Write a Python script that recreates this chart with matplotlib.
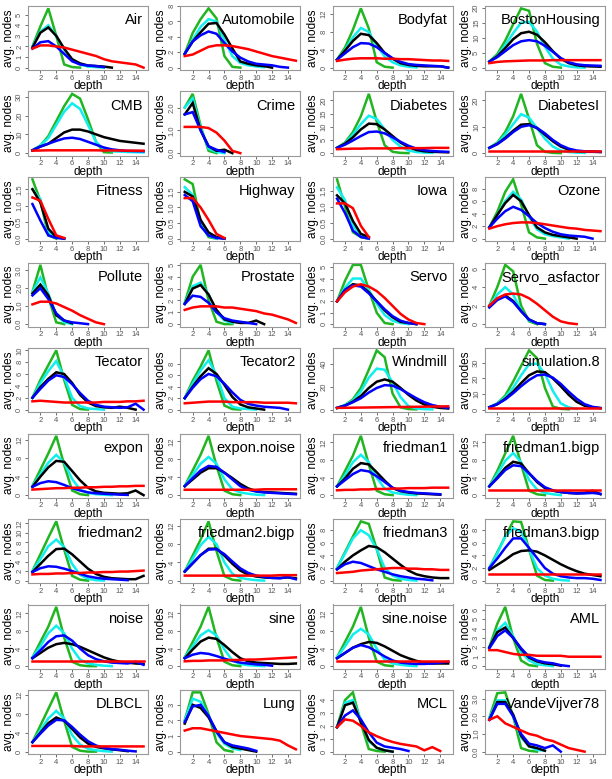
import matplotlib
matplotlib.use("Agg")
import matplotlib.pyplot as plt

# panel names, row by row
names = ["Air", "Automobile", "Bodyfat", "BostonHousing",
         "CMB", "Crime", "Diabetes", "DiabetesI",
         "Fitness", "Highway", "Iowa", "Ozone",
         "Pollute", "Prostate", "Servo", "Servo_asfactor",
         "Tecator", "Tecator2", "Windmill", "simulation.8",
         "expon", "expon.noise", "friedman1", "friedman1.bigp",
         "friedman2", "friedman2.bigp", "friedman3", "friedman3.bigp",
         "noise", "sine", "sine.noise", "AML",
         "DLBCL", "Lung", "MCL", "VandeVijver78"]

# avg. nodes per depth (depth = 1, 2, ...), one list per panel
green = [
    [2.0, 3.9, 5.6, 3.0, 0.3, 0.05, 0.0],
    [1.8, 4.5, 6.3, 7.7, 6.4, 1.5, 0.1, 0.0],
    [1.8, 4.5, 8.5, 13.3, 8.8, 1.2, 0.2, 0.0],
    [2.0, 4.5, 9.0, 14.5, 19.8, 19.0, 8.0, 1.5, 0.3, 0.0],
    [1.5, 4, 9, 17, 25, 31.5, 29, 18, 6, 0.5, 0.3],
    [2.0, 2.6, 1.2, 0.1, 0.0],
    [2, 4, 8, 14, 22.5, 12, 3, 0.5, 0.1, 0.0],
    [2, 4, 8, 14, 22.5, 13, 3, 0.5, 0.1, 0.0],
    [1.8, 1.15, 0.1, 0.0],
    [1.9, 1.75, 0.5, 0.05, 0.0],
    [1.85, 1.0, 0.2, 0.05, 0.0],
    [1.8, 4.3, 7.5, 9.5, 5.5, 1.0, 0.2, 0.0],
    [1.8, 3.3, 1.5, 0.1, 0.0],
    [1.8, 4.0, 5.0, 2.0, 0.2, 0.0, 0.0],
    [2.0, 3.8, 5.2, 5.2, 3.0, 1.0, 0.1, 0.0],
    [2.0, 4.0, 6.4, 5.7, 2.0, 0.3, 0.0],
    [2.0, 5.0, 7.5, 10.0, 5.0, 0.8, 0.1, 0.0],
    [2.0, 5.0, 7.5, 10.3, 5.0, 0.7, 0.1, 0.0],
    [1.5, 4, 9, 19, 35, 52, 46, 14, 2, 0.5, 0.2],
    [1.5, 4, 9, 18, 28, 38, 33, 14, 2, 0.5, 0.2],
    [2.0, 5.5, 9.0, 12.8, 6.5, 1.0, 0.2, 0.0],
    [2.0, 5.5, 9.0, 13.2, 6.5, 1.0, 0.2, 0.0],
    [2.0, 5.5, 9.0, 13.5, 7.0, 1.0, 0.2, 0.0],
    [2.0, 5.5, 9.5, 13.5, 7.0, 1.0, 0.2, 0.0],
    [2.0, 5.5, 9.0, 12.4, 6.5, 1.0, 0.2, 0.0],
    [2.0, 5.5, 9.0, 13.0, 6.5, 1.0, 0.2, 0.0],
    [2.0, 4.5, 7.0, 9.4, 9.0, 5.0, 0.5, 0.1, 0.0],
    [2.0, 4.5, 7.0, 9.4, 9.3, 5.0, 0.8, 0.1, 0.0],
    [2.0, 5.5, 9.0, 13.5, 6.5, 1.0, 0.2, 0.0, 0.0],
    [2.0, 5.5, 9.0, 13.5, 6.5, 1.0, 0.2, 0.0],
    [2.0, 5.5, 9.0, 13.5, 6.5, 1.0, 0.2, 0.0],
    [2.0, 4.5, 6.3, 3.0, 0.6, 0.1, 0.0],
    [2.0, 5.5, 9.0, 12.5, 6.5, 1.0, 0.2, 0.0, 0.0],
    [2.0, 3.8, 3.8, 2.4, 0.6, 0.1, 0.0],
    [1.9, 4.0, 4.6, 2.2, 0.2, 0.05, 0.0],
    [1.9, 3.3, 3.35, 2.0, 0.2, 0.05, 0.0],
]

cyan = [
    [2.0, 3.4, 4.0, 3.0, 1.7, 0.7, 0.3, 0.1, 0.05, 0.0],
    [1.8, 3.6, 5.3, 6.3, 6.0, 3.6, 1.5, 0.6, 0.3, 0.15, 0.05],
    [1.8, 4.0, 6.8, 8.9, 8.0, 5.0, 2.5, 1.2, 0.5, 0.2, 0.05],
    [2.0, 4.0, 7.5, 11.5, 15.0, 15.3, 12.0, 7.0, 3.0, 1.0, 0.4, 0.1, 0.0],
    [1.5, 4, 8, 15, 22, 26.5, 23.5, 15, 6, 2, 1, 0.8, 0.6, 0.5, 0.4],
    [2.0, 2.4, 1.1, 0.2, 0.05, 0.0],
    [2, 3.8, 7, 11, 14.2, 13, 9, 5, 2.5, 1, 0.4, 0.2, 0.1],
    [2, 3.8, 7, 11, 14.8, 13.5, 9.5, 5.5, 2.5, 1, 0.4, 0.2, 0.1],
    [1.5, 1.2, 0.2, 0.05, 0.0],
    [1.65, 1.4, 0.45, 0.1, 0.0],
    [1.6, 1.2, 0.4, 0.1, 0.0],
    [1.8, 3.8, 6.0, 7.5, 6.3, 3.5, 1.5, 0.7, 0.4, 0.2, 0.0],
    [1.8, 2.6, 1.7, 0.5, 0.1, 0.0],
    [1.8, 3.2, 3.5, 2.5, 1.0, 0.3, 0.1],
    [2.0, 3.2, 4.0, 4.0, 3.0, 1.8, 0.8, 0.3, 0.1, 0.0],
    [2.0, 3.2, 4.0, 3.2, 1.5, 0.4, 0.1, 0.0],
    [2.0, 4.5, 6.5, 8.2, 5.5, 2.0, 0.6, 0.2, 0.1, 0.0],
    [2.0, 4.5, 6.8, 8.6, 6.0, 2.0, 0.5, 0.2, 0.1, 0.0],
    [1.5, 4, 8, 16, 28, 36, 35, 24, 11, 3, 1, 0.4, 0.2],
    [1.5, 4, 8, 14, 22, 29, 29.5, 23, 12, 4, 1.5, 0.5],
    [2.0, 4.5, 7.0, 8.7, 7.0, 3.5, 1.2, 0.5, 0.2, 0.1, 0.0],
    [2.0, 4.5, 7.0, 8.5, 7.0, 3.5, 1.3, 0.6, 0.3, 0.1, 0.0],
    [2.0, 4.5, 7.5, 9.2, 7.5, 4.0, 1.5, 0.6, 0.3, 0.1, 0.0],
    [2.0, 4.8, 7.8, 9.6, 7.5, 3.5, 1.3, 0.5, 0.2, 0.0],
    [2.0, 4.5, 7.2, 8.6, 7.0, 3.5, 1.2, 0.4, 0.1, 0.0],
    [2.0, 4.8, 7.8, 9.6, 8.0, 4.0, 1.5, 0.6, 0.3, 0.1, 0.0],
    [2.0, 4.3, 6.7, 8.0, 7.2, 5.0, 2.0, 0.8, 0.3, 0.1, 0.0],
    [2.0, 4.3, 7.0, 8.3, 7.8, 5.0, 2.0, 0.8, 0.3, 0.1, 0.0],
    [2.0, 4.5, 7.5, 9.2, 7.5, 4.0, 1.5, 0.6, 0.3, 0.1, 0.0],
    [2.0, 4.5, 7.0, 8.2, 7.0, 3.8, 1.3, 0.5, 0.2, 0.1, 0.0],
    [2.0, 4.5, 7.2, 8.5, 7.2, 4.0, 1.5, 0.6, 0.3, 0.1, 0.0],
    [2.0, 3.8, 4.6, 3.2, 1.5, 0.6, 0.2, 0.1, 0.0],
    [2.0, 4.5, 7.0, 8.6, 7.0, 3.5, 1.5, 0.6, 0.3, 0.1, 0.0],
    [2.0, 3.4, 3.2, 2.3, 1.2, 0.5, 0.2, 0.1],
    [1.9, 3.8, 4.0, 2.5, 0.8, 0.3, 0.1, 0.0],
    [1.9, 2.9, 2.9, 2.0, 0.8, 0.3, 0.1, 0.05],
]

black = [
    [1.9, 3.3, 3.8, 3.0, 1.8, 0.8, 0.4, 0.2, 0.15, 0.1, 0.0],
    [1.8, 3.4, 4.6, 5.7, 5.8, 4.3, 2.5, 0.8, 0.5, 0.3, 0.2, 0.0],
    [1.8, 3.8, 6.0, 7.6, 7.3, 5.5, 3.3, 2.0, 1.0, 0.6, 0.4, 0.3, 0.3, 0.3, 0.0],
    [2.0, 3.8, 6.5, 9.5, 11.5, 12.0, 11.0, 8.5, 5.5, 3.0, 1.5, 0.8, 0.5, 0.4, 0.3],
    [1.5, 3.5, 5, 8, 11, 12.5, 12.5, 11.5, 10, 8.5, 7.5, 6.5, 6, 5.5, 5],
    [1.7, 2.2, 1.0, 0.3, 0.1, 0.15, 0.0],
    [2, 3.6, 6, 9, 11.2, 11, 9, 6.5, 4, 2.3, 1.2, 0.7, 0.5, 0.4, 0.3],
    [2, 3.5, 5.8, 8.5, 10.8, 11, 9.5, 7, 4.5, 2.5, 1.3, 0.7, 0.5, 0.5, 0.4],
    [1.5, 1.1, 0.3, 0.05, 0.0],
    [1.5, 1.35, 0.6, 0.2, 0.05, 0.0],
    [1.35, 1.1, 0.55, 0.15, 0.05],
    [1.8, 3.8, 5.7, 7.0, 6.0, 3.8, 1.8, 1.0, 0.6, 0.4, 0.2, 0.0],
    [1.7, 2.2, 1.6, 0.5, 0.2, 0.05],
    [1.7, 3.0, 3.3, 2.5, 1.2, 0.4, 0.2, 0.1, 0.1, 0.3, 0.0],
    [2.0, 3.0, 3.5, 3.4, 2.8, 2.0, 1.2, 0.6, 0.2, 0.1, 0.0],
    [1.9, 2.7, 3.1, 2.5, 1.4, 0.5, 0.1, 0.0],
    [2.0, 3.8, 5.2, 6.3, 6.0, 4.5, 2.5, 1.2, 0.6, 0.4, 0.3, 0.5, 0.3, 0.0],
    [2.0, 4.0, 5.8, 7.2, 6.2, 4.3, 2.2, 0.9, 0.4, 0.2, 0.0],
    [1.5, 3.5, 7, 12, 19, 24.5, 26.5, 24.5, 19, 13, 8, 4.5, 2.5, 1.5, 1],
    [1.5, 3.5, 7, 11.5, 17, 22, 24.5, 24, 20, 15, 9.5, 5, 2.5, 1.5, 1],
    [1.8, 4.0, 6.0, 7.4, 7.2, 5.2, 3.2, 1.6, 0.8, 0.5, 0.4, 0.3, 0.4, 1.0, 0.0],
    [2.0, 3.5, 5.0, 6.0, 6.0, 5.0, 3.8, 2.5, 1.5, 0.9, 0.7, 0.6, 0.5, 0.4, 0.3],
    [2.0, 3.8, 6.0, 7.3, 7.0, 5.2, 3.3, 1.6, 0.9, 0.6, 0.4, 0.3, 0.2, 0.1],
    [2.0, 4.0, 6.2, 7.6, 7.2, 5.0, 3.0, 1.6, 1.0, 0.7, 0.5, 0.4, 0.5, 1.0, 0.2],
    [1.8, 3.5, 5.2, 6.6, 6.7, 5.5, 4.0, 2.5, 1.4, 0.8, 0.5, 0.4, 0.3, 0.3, 1.0],
    [2.0, 3.8, 5.6, 7.0, 7.0, 5.5, 3.7, 2.2, 1.3, 0.9, 0.7, 0.6, 0.6, 0.7, 0.5],
    [1.8, 3.0, 4.0, 4.8, 5.5, 5.3, 4.5, 3.5, 2.5, 1.6, 1.0, 0.7, 0.5, 0.4, 0.4],
    [1.7, 2.5, 3.3, 4.2, 4.7, 4.8, 4.6, 4.0, 3.3, 2.6, 2.0, 1.5, 1.1, 0.9, 0.7],
    [1.8, 3.0, 4.2, 5.0, 5.3, 5.0, 4.4, 3.6, 2.8, 2.0, 1.4, 1.0, 0.8, 0.6, 0.5],
    [1.8, 3.8, 5.6, 6.5, 6.2, 4.8, 3.2, 1.8, 1.1, 0.8, 0.7, 0.6, 0.5, 0.5, 0.6],
    [1.8, 3.0, 4.2, 5.0, 5.5, 5.3, 4.5, 3.5, 2.5, 1.8, 1.2, 0.8, 0.6, 0.6, 0.6],
    [2.0, 3.6, 4.1, 3.0, 1.8, 0.9, 0.5, 0.3, 0.2, 0.05],
    [2.0, 4.0, 6.0, 7.2, 6.5, 4.8, 3.0, 1.7, 1.0, 0.7, 0.5, 0.3, 0.1],
    [1.8, 3.0, 2.8, 2.2, 1.3, 0.6, 0.3, 0.2, 0.1, 0.0],
    [1.9, 3.6, 3.8, 2.3, 0.9, 0.3, 0.1, 0.0],
    [1.8, 2.8, 2.8, 2.1, 0.9, 0.3, 0.2, 0.05],
]

blue = [
    [1.8, 2.4, 2.5, 2.0, 1.3, 0.6, 0.3, 0.2, 0.15, 0.05],
    [1.8, 3.4, 4.2, 4.7, 4.4, 3.2, 2.1, 1.3, 0.8, 0.5, 0.4, 0.3, 0.1, 0.0],
    [1.8, 3.2, 4.6, 5.5, 5.4, 4.6, 3.3, 2.1, 1.3, 0.8, 0.6, 0.5, 0.4, 0.3, 0.0],
    [2.0, 3.5, 5.5, 7.5, 8.8, 9.2, 8.8, 7.3, 5.3, 3.2, 1.8, 1.1, 0.8, 0.7, 0.6],
    [1.5, 3.5, 5, 6.5, 7.8, 8.2, 7.5, 6, 4.5, 3, 2, 1.5, 1.2, 1.1, 1.0],
    [1.7, 1.8, 1.0, 0.3, 0.15, 0.05],
    [2, 3.2, 4.8, 6.5, 8.0, 8.2, 7.5, 6, 4.3, 2.8, 1.7, 1.1, 0.8, 0.6, 0.5],
    [2, 3.4, 5.5, 8, 10, 10.6, 9.6, 7.5, 5, 3, 1.7, 1, 0.7, 0.6, 0.5],
    [1.05, 0.55, 0.1, 0.02, 0.0],
    [1.4, 1.2, 0.4, 0.1, 0.02, 0.0],
    [1.25, 0.8, 0.25, 0.05, 0.0],
    [1.8, 3.2, 4.4, 5.1, 4.6, 3.6, 2.5, 1.7, 1.1, 0.7, 0.5, 0.4, 0.3, 0.0],
    [1.6, 2.0, 1.4, 0.6, 0.2, 0.1, 0.05, 0.0],
    [1.7, 2.4, 2.3, 1.8, 1.0, 0.5, 0.3, 0.2, 0.1, 0.0],
    [2.0, 3.0, 3.4, 3.3, 2.7, 2.0, 1.3, 0.7, 0.3, 0.1, 0.0],
    [1.8, 2.6, 3.0, 2.4, 1.4, 0.5, 0.1, 0.0],
    [2.0, 3.5, 4.9, 5.8, 5.5, 4.3, 2.8, 1.5, 0.8, 0.5, 0.4, 0.3, 0.4, 1.0, 0.0],
    [2.0, 3.8, 5.3, 6.2, 5.8, 4.5, 3.0, 1.7, 1.0, 0.7, 0.5, 0.4, 0.3, 0.0],
    [1.5, 3.5, 6.5, 10, 15, 19, 21.5, 21, 18, 14, 10, 6.5, 4, 2.5, 1.5],
    [1.5, 3.5, 6.5, 10.5, 15, 19, 22, 22.5, 20.5, 16.5, 11.5, 7, 3.5, 1.8, 1],
    [1.8, 2.6, 3.0, 2.8, 2.2, 1.5, 1.0, 0.6, 0.4, 0.3, 0.2, 0.1, 0.05],
    [2.0, 3.8, 5.5, 6.5, 6.3, 5.0, 3.5, 2.0, 1.2, 0.8, 0.6, 0.5, 0.4, 0.3, 0.2],
    [2.0, 3.4, 4.8, 5.7, 5.4, 4.3, 3.0, 1.7, 1.0, 0.7, 0.5, 0.4, 0.3, 0.2],
    [2.0, 3.8, 5.7, 6.8, 6.6, 5.0, 3.2, 1.8, 1.1, 0.7, 0.5, 0.4, 0.4, 0.5, 0.3],
    [1.8, 2.6, 3.0, 2.9, 2.5, 2.0, 1.4, 0.9, 0.6, 0.4, 0.3, 0.2, 0.1],
    [2.0, 3.8, 5.6, 6.8, 6.9, 5.8, 4.2, 2.7, 1.7, 1.1, 0.8, 0.6, 0.5, 0.8, 0.3],
    [1.8, 2.6, 3.0, 2.8, 2.3, 1.8, 1.4, 1.0, 0.7, 0.5, 0.3, 0.2, 0.05],
    [2.0, 3.5, 5.2, 6.7, 6.7, 5.2, 3.6, 2.0, 1.1, 0.7, 0.5, 0.4, 0.4, 0.3, 0.1],
    [1.8, 3.6, 5.5, 6.8, 7.0, 5.8, 4.0, 2.5, 1.6, 1.1, 0.8, 0.7, 0.6, 1.0, 0.3],
    [1.8, 2.6, 3.0, 2.8, 2.3, 1.7, 1.2, 0.8, 0.6, 0.4, 0.3, 0.1],
    [1.8, 3.0, 4.2, 4.8, 4.3, 3.3, 2.2, 1.3, 0.8, 0.6, 0.5, 0.5, 0.6, 0.8, 1.0],
    [1.9, 3.2, 3.8, 3.0, 1.9, 1.0, 0.6, 0.4, 0.3, 0.1, 0.0],
    [2.0, 3.8, 5.5, 6.7, 6.6, 5.2, 3.6, 2.2, 1.3, 0.8, 0.5, 0.4, 0.2, 0.05],
    [1.9, 2.9, 3.0, 2.3, 1.3, 0.6, 0.4, 0.3, 0.2, 0.05],
    [1.9, 2.8, 3.2, 2.5, 1.5, 0.7, 0.4, 0.3, 0.2, 0.05],
    [1.8, 2.7, 2.7, 2.0, 1.0, 0.45, 0.35, 0.2, 0.35, 0.0],
]

red = [
    [1.8, 2.1, 2.1, 2.0, 1.9, 1.7, 1.5, 1.3, 1.1, 0.8, 0.6, 0.5, 0.4, 0.3, 0.0],
    [1.5, 1.7, 2.2, 2.7, 2.9, 2.9, 2.8, 2.6, 2.4, 2.1, 1.8, 1.5, 1.3, 1.1, 0.9],
    [1.5, 1.8, 2.0, 2.1, 2.1, 2.1, 2.0, 2.0, 1.9, 1.9, 1.8, 1.7, 1.6, 1.6, 1.5],
    [1.5, 1.9, 2.1, 2.2, 2.3, 2.4, 2.4, 2.4, 2.5, 2.5, 2.5, 2.5, 2.5, 2.5, 2.5],
    [1.3, 1.4, 1.5, 1.5, 1.5, 1.5, 1.5, 1.5, 1.5, 1.4, 1.4, 1.4, 1.3, 1.3, 1.3],
    [1.15, 1.15, 1.15, 1.1, 0.9, 0.55, 0.1, 0.0],
    [1.5, 1.6, 1.7, 1.7, 1.8, 1.8, 1.8, 1.8, 1.9, 1.9, 1.9, 1.9, 2.0, 2.0, 2.0],
    [0.9, 0.9, 0.9, 0.9, 0.9, 0.9, 0.9, 0.9, 0.9, 0.9, 0.9, 0.9, 0.9, 0.9, 0.9],
    [1.25, 1.15, 0.6, 0.1, 0.02],
    [1.3, 1.3, 1.0, 0.6, 0.15, 0.02],
    [1.1, 1.1, 0.95, 0.4, 0.05],
    [1.6, 2.0, 2.3, 2.5, 2.6, 2.6, 2.5, 2.3, 2.1, 1.9, 1.7, 1.6, 1.4, 1.3, 1.2],
    [1.1, 1.25, 1.25, 1.15, 0.95, 0.75, 0.5, 0.3, 0.1, 0.0],
    [1.2, 1.4, 1.5, 1.5, 1.5, 1.4, 1.4, 1.3, 1.2, 1.1, 0.9, 0.8, 0.6, 0.4, 0.1],
    [2.0, 2.8, 3.3, 3.5, 3.3, 2.9, 2.3, 1.6, 0.9, 0.4, 0.1, 0.0],
    [2.0, 2.8, 3.2, 3.3, 3.2, 2.8, 2.2, 1.5, 0.8, 0.3, 0.1, 0.0],
    [1.4, 1.5, 1.4, 1.3, 1.2, 1.2, 1.2, 1.2, 1.2, 1.3, 1.3, 1.3, 1.4, 1.4, 1.5],
    [1.1, 1.2, 1.3, 1.4, 1.4, 1.4, 1.3, 1.3, 1.3, 1.3, 1.2, 1.2, 1.2, 1.2, 1.1],
    [1.5, 1.6, 1.7, 1.8, 1.9, 2.0, 2.1, 2.2, 2.3, 2.4, 2.5, 2.6, 2.7, 2.8, 2.9],
    [1.2, 1.2, 1.2, 1.2, 1.2, 1.2, 1.2, 1.2, 1.2, 1.2, 1.2, 1.2, 1.2, 1.2, 1.2],
    [1.2, 1.3, 1.4, 1.5, 1.5, 1.6, 1.6, 1.7, 1.7, 1.8, 1.8, 1.9, 1.9, 2.0, 2.0],
    [1.2, 1.2, 1.2, 1.2, 1.2, 1.2, 1.2, 1.2, 1.2, 1.2, 1.3, 1.3, 1.3, 1.3, 1.3],
    [1.1, 1.2, 1.2, 1.3, 1.3, 1.4, 1.4, 1.5, 1.5, 1.6, 1.6, 1.6, 1.7, 1.7, 1.7],
    [1.1, 1.1, 1.1, 1.1, 1.1, 1.1, 1.1, 1.1, 1.1, 1.1, 1.1, 1.1, 1.1, 1.1, 1.1],
    [1.3, 1.4, 1.4, 1.5, 1.5, 1.6, 1.6, 1.7, 1.7, 1.8, 1.8, 1.9, 1.9, 2.0, 2.1],
    [1.1, 1.1, 1.1, 1.1, 1.1, 1.1, 1.1, 1.1, 1.1, 1.1, 1.1, 1.1, 1.2, 1.2, 1.2],
    [1.2, 1.3, 1.4, 1.6, 1.7, 1.8, 1.9, 2.0, 2.0, 1.9, 1.9, 1.8, 1.8, 1.7, 1.7],
    [1.0, 1.0, 1.0, 1.0, 1.0, 1.0, 1.0, 1.0, 1.0, 1.0, 1.0, 1.0, 1.0, 1.0, 1.0],
    [1.1, 1.1, 1.1, 1.1, 1.1, 1.1, 1.1, 1.1, 1.1, 1.1, 1.1, 1.1, 1.1, 1.1, 1.1],
    [1.1, 1.2, 1.2, 1.3, 1.3, 1.3, 1.4, 1.4, 1.5, 1.5, 1.6, 1.7, 1.8, 1.9, 2.0],
    [1.2, 1.2, 1.2, 1.2, 1.2, 1.2, 1.2, 1.2, 1.2, 1.2, 1.2, 1.2, 1.2, 1.2, 1.2],
    [1.7, 1.7, 1.5, 1.3, 1.2, 1.2, 1.1, 1.1, 1.1, 1.1, 1.0, 1.0, 1.0, 1.0, 1.0],
    [1.2, 1.2, 1.2, 1.2, 1.2, 1.2, 1.1, 1.1, 1.1, 1.1, 1.1, 1.1, 1.1, 1.1, 1.1],
    [1.35, 1.5, 1.5, 1.4, 1.3, 1.2, 1.1, 1.0, 0.95, 0.9, 0.85, 0.8, 0.7, 0.4, 0.15],
    [1.9, 2.5, 2.4, 2.0, 1.5, 1.2, 0.95, 0.75, 0.6, 0.5, 0.4, 0.1, 0.35, 0.05],
    [1.8, 2.0, 1.6, 1.4, 1.2, 1.0, 0.9, 0.7, 0.6, 0.4, 0.2, 0.1, 0.0],
]

# y tick labels as printed on each panel
yticks = [
    ["0", "1", "2", "3", "4", "5"], ["0", "2", "4", "6", "8"], ["0", "4", "8", "12"], ["0", "5", "10", "15", "20"],
    ["0", "10", "20", "30"], ["0.0", "1.0", "2.0"], ["0", "5", "10", "15", "20"], ["0", "10", "20"],
    ["0.0", "0.5", "1.0", "1.5"], ["0.0", "0.5", "1.0", "1.5"], ["0.0", "0.5", "1.0", "1.5"], ["0", "2", "4", "6", "8"],
    ["0.0", "1.0", "2.0", "3.0"], ["0", "1", "2", "3", "4", "5"], ["0", "1", "2", "3", "4", "5"], ["0", "2", "4", "6"],
    ["0", "2", "4", "6", "8", "10"], ["0", "2", "4", "6", "8"], ["0", "20", "40"], ["0", "10", "20", "30"],
    ["0", "4", "8", "12"], ["0", "4", "8", "12"], ["0", "4", "8", "12"], ["0", "4", "8", "12"],
    ["0", "2", "4", "6", "8", "10", "12"], ["0", "4", "8", "12"], ["0", "2", "4", "6", "8"], ["0", "2", "4", "6", "8"],
    ["0", "4", "8", "12"], ["0", "4", "8", "12"], ["0", "4", "8", "12"], ["0", "1", "2", "3", "4", "5", "6"],
    ["0", "4", "8", "12"], ["0", "1", "2", "3"], ["0", "1", "2", "3", "4"], ["0.0", "1.0", "2.0", "3.0"],
]

xticks = [2, 4, 6, 8, 10, 12, 14]

series = [(green, "#22b522"), (cyan, "#11eeee"), (black, "black"),
          (blue, "#0000ff"), (red, "#ff0000")]

plt.rcParams["font.family"] = ["Liberation Sans", "DejaVu Sans"]

W, H = 612, 779
fig = plt.figure(figsize=(W / 100, H / 100), dpi=100)

for i, name in enumerate(names):
    row, col = divmod(i, 4)
    left = 28 + 152.3 * col
    top = 6 + 85.5 * row
    ax = fig.add_axes([left / W, 1 - (top + 64) / H, 120 / W, 64 / H])

    ymax = 0
    for data, color in series:
        vals = data[i]
        ax.plot(range(1, len(vals) + 1), vals, color=color, lw=1.8,
                solid_joinstyle="miter")
        ymax = max(ymax, max(vals))

    ax.set_xlim(1 - 0.56, 15 + 0.56)
    ax.set_ylim(-0.04 * ymax, 1.04 * ymax)
    ax.set_xticks(xticks)
    ax.set_yticks([float(t) for t in yticks[i]])
    ax.set_yticklabels(yticks[i], rotation=90, va="center")

    for s in ax.spines.values():
        s.set_color("#999999")
        s.set_linewidth(0.8)
    ax.tick_params(colors="#555555", labelsize=5.5, length=2.5, width=0.6, pad=1)

    ax.set_xlabel("depth", fontsize=8.5, labelpad=-1)
    ax.set_ylabel("avg. nodes", fontsize=8.5, labelpad=1)
    ax.text(0.96, 0.78, name, transform=ax.transAxes, ha="right", va="center",
            fontsize=10.5)

fig.savefig("out.png", dpi=100)
